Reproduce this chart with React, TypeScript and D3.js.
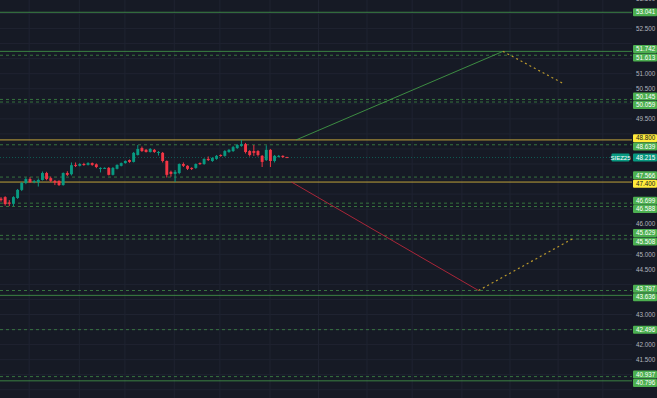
import React from "react";
import * as d3 from "d3";

const W = 657;
const H = 398;

// Candles (bar index 0..69)
const opens = [46.85, 46.90, 46.72, 46.68, 46.87, 47.14, 47.37, 47.50, 47.40, 47.40, 47.47, 47.70, 47.53, 47.44, 47.44, 47.30, 47.70, 47.66, 47.97, 47.94, 48.00, 47.97, 48.03, 47.99, 47.84, 47.87, 47.87, 47.64, 47.84, 47.94, 48.03, 48.13, 48.07, 48.30, 48.53, 48.47, 48.40, 48.47, 48.38, 48.37, 48.10, 47.74, 47.67, 47.70, 48.00, 47.94, 47.87, 47.87, 48.03, 48.00, 48.17, 48.10, 48.17, 48.30, 48.27, 48.40, 48.43, 48.53, 48.60, 48.66, 48.43, 48.43, 48.43, 48.27, 48.13, 48.47, 48.10, 48.24, 48.27, 48.23];
const highs = [46.90, 46.93, 46.80, 46.93, 47.17, 47.40, 47.55, 47.56, 47.47, 47.52, 47.75, 47.74, 47.58, 47.47, 47.46, 47.72, 47.76, 48.05, 48.05, 48.03, 48.04, 48.06, 48.05, 48.02, 47.89, 47.89, 47.90, 47.90, 47.99, 48.05, 48.12, 48.15, 48.40, 48.63, 48.58, 48.50, 48.53, 48.50, 48.43, 48.40, 48.12, 47.78, 47.80, 48.02, 48.05, 47.96, 47.89, 48.02, 48.05, 48.19, 48.25, 48.23, 48.30, 48.32, 48.46, 48.50, 48.60, 48.66, 48.80, 48.70, 48.46, 48.63, 48.46, 48.30, 48.62, 48.50, 48.30, 48.30, 48.29, 48.24];
const lows = [46.75, 46.62, 46.60, 46.60, 46.84, 47.10, 47.33, 47.37, 47.36, 47.25, 47.45, 47.46, 47.40, 47.30, 47.27, 47.28, 47.60, 47.62, 47.90, 47.92, 47.94, 47.95, 47.94, 47.86, 47.72, 47.85, 47.62, 47.62, 47.82, 47.92, 48.01, 48.04, 48.05, 48.28, 48.40, 48.38, 48.38, 48.37, 48.28, 48.05, 47.55, 47.58, 47.40, 47.66, 47.90, 47.80, 47.80, 47.84, 47.97, 47.97, 48.10, 48.07, 48.14, 48.24, 48.24, 48.37, 48.40, 48.50, 48.57, 48.35, 48.25, 48.27, 48.25, 47.90, 48.10, 47.90, 48.05, 48.22, 48.20, 48.20];
const closes = [46.80, 46.67, 46.68, 46.90, 47.14, 47.37, 47.50, 47.40, 47.43, 47.47, 47.70, 47.50, 47.44, 47.38, 47.30, 47.70, 47.64, 47.96, 47.94, 48.00, 47.97, 48.03, 47.97, 47.90, 47.87, 47.87, 47.64, 47.87, 47.97, 48.03, 48.10, 48.07, 48.37, 48.50, 48.43, 48.40, 48.50, 48.40, 48.40, 48.10, 47.64, 47.67, 47.74, 48.00, 47.94, 47.84, 47.84, 48.00, 48.00, 48.17, 48.13, 48.20, 48.27, 48.27, 48.43, 48.47, 48.56, 48.63, 48.66, 48.40, 48.30, 48.37, 48.30, 48.07, 48.47, 48.10, 48.27, 48.27, 48.23, 48.215];

// Horizontal levels
const solidGreenLevels = [53.041, 51.742, 43.636, 40.796];
const dashedGreenLevels = [51.613, 50.145, 50.059, 48.639, 47.566, 46.699, 46.588, 45.629, 45.508, 43.797, 42.496, 40.937];
const yellowLevels = [48.8, 47.4];
const lastPrice = 48.215;
const symbolName = "SIEZ25";

// Drawings (bar index, price)
const trendUp: [number, number][] = [[71.2, 48.8], [121.1, 51.742]];
const projectionUp: [number, number][] = [[121.1, 51.742], [136.0, 50.648]];
const trendDown: [number, number][] = [[70.1, 47.4], [115.2, 43.797]];
const projectionDown: [number, number][] = [[115.2, 43.797], [138.1, 45.53]];

// Axis ticks
const priceTicks = d3.range(40.5, 53.51, 0.5);
const timeGridIndex = [6.8, 18.9, 29.9, 41.8, 52.8, 64.9, 76.6, 88.3, 99.2, 111.2, 122.8, 134.4, 145.2];

const BG = "#161a25";
const GRID = "#1f2331";
const UP = "#089981";
const DOWN = "#f23645";
const GREEN = "#4caf50";
const YELLOW_LINE = "#bfa23a";
const YELLOW_BADGE = "#ffeb3b";
const PLOT_RIGHT = 632;
const FONT = "'Liberation Sans', Arial, sans-serif";

export default function App() {
  const x = d3.scaleLinear().domain([0, 69]).range([1, 287]);
  const y = d3.scaleLinear().domain([40.5, 53.5]).range([389.75, -1.55]);
  const line = d3
    .line<[number, number]>()
    .x((d) => x(d[0]))
    .y((d) => y(d[1]));

  type Badge = { v: number; fill: string; text: string; textFill: string };
  const badges: Badge[] = [
    ...solidGreenLevels.map((v) => ({ v, fill: GREEN, text: v.toFixed(3), textFill: "#ffffff" })),
    ...dashedGreenLevels.map((v) => ({ v, fill: GREEN, text: v.toFixed(3), textFill: "#ffffff" })),
    ...yellowLevels.map((v) => ({ v, fill: YELLOW_BADGE, text: v.toFixed(3), textFill: "#131722" })),
    { v: lastPrice, fill: UP, text: lastPrice.toFixed(3), textFill: "#ffffff" },
  ].sort((a, b) => b.v - a.v);

  const BH = 8;
  const GAP = 8.4;
  const desired = badges.map((b) => y(b.v));
  const placed: number[] = desired.slice();
  const groups: number[][] = [];
  let cur: number[] = [0];
  for (let i = 1; i < desired.length; i++) {
    if (desired[i] - desired[i - 1] < GAP) cur.push(i);
    else {
      groups.push(cur);
      cur = [i];
    }
  }
  groups.push(cur);
  groups.forEach((g) => {
    if (g.length > 1) {
      const mean = d3.mean(g, (i) => desired[i]) as number;
      g.forEach((i, k) => {
        placed[i] = mean + (k - (g.length - 1) / 2) * GAP;
      });
    }
  });

  // hide tick labels that are covered by a badge
  const visibleTicks = priceTicks.filter((t) => {
    const ty = y(t);
    return placed.every((p) => Math.abs(p - ty) >= 7.2);
  });

  const lastIdx = badges.findIndex((b) => b.v === lastPrice);
  const bw = 2.9;

  return (
    <svg
      width={W}
      height={H}
      style={{ position: "absolute", left: 0, top: 0, background: BG }}
      fontFamily={FONT}
    >
      <rect x={0} y={0} width={W} height={H} fill={BG} />
      {priceTicks.map((t) => (
        <line key={"h" + t} x1={0} x2={PLOT_RIGHT} y1={y(t)} y2={y(t)} stroke={GRID} strokeWidth={1} />
      ))}
      {timeGridIndex.map((t) => (
        <line key={"v" + t} x1={x(t)} x2={x(t)} y1={0} y2={H} stroke={GRID} strokeWidth={1} />
      ))}

      {dashedGreenLevels.map((v) => (
        <line key={"d" + v} x1={0} x2={PLOT_RIGHT} y1={y(v)} y2={y(v)} stroke={GREEN} strokeOpacity={0.6} strokeWidth={1} strokeDasharray="3,3" />
      ))}
      {solidGreenLevels.map((v) => (
        <line key={"s" + v} x1={0} x2={PLOT_RIGHT} y1={y(v)} y2={y(v)} stroke={GREEN} strokeOpacity={0.7} strokeWidth={1} />
      ))}
      {yellowLevels.map((v) => (
        <line key={"y" + v} x1={0} x2={PLOT_RIGHT} y1={y(v)} y2={y(v)} stroke={YELLOW_LINE} strokeWidth={1} />
      ))}
      <line x1={0} x2={PLOT_RIGHT} y1={y(lastPrice)} y2={y(lastPrice)} stroke={UP} strokeOpacity={0.5} strokeWidth={1} strokeDasharray="1,2" />

      <path d={line(trendUp) || ""} stroke="#43a047" strokeOpacity={0.85} strokeWidth={1} fill="none" />
      <path d={line(trendDown) || ""} stroke="#c2283c" strokeOpacity={0.85} strokeWidth={1} fill="none" />
      <path d={line(projectionUp) || ""} stroke="#b8972c" strokeWidth={1.2} strokeDasharray="2,3" fill="none" />
      <path d={line(projectionDown) || ""} stroke="#b8972c" strokeWidth={1.2} strokeDasharray="2,3" fill="none" />

      {opens.map((o, i) => {
        const c = closes[i];
        const col = c >= o ? UP : DOWN;
        const top = y(Math.max(o, c));
        const bot = y(Math.min(o, c));
        return (
          <g key={"c" + i}>
            <line x1={x(i)} x2={x(i)} y1={y(highs[i])} y2={y(lows[i])} stroke={col} strokeWidth={1} />
            <rect x={x(i) - bw / 2} y={top} width={bw} height={Math.max(1, bot - top)} fill={col} />
          </g>
        );
      })}

      {visibleTicks.map((t) => (
        <text key={"t" + t} x={636} y={y(t)} dy="0.35em" fontSize={6.3} fill="#b2b5be">
          {t.toFixed(3)}
        </text>
      ))}

      {badges.map((b, i) => (
        <g key={"b" + i}>
          <rect x={633} y={placed[i] - BH / 2} width={24} height={BH} fill={b.fill} rx={1} />
          <text x={636} y={placed[i]} dy="0.35em" fontSize={6.3} fill={b.textFill}>
            {b.text}
          </text>
        </g>
      ))}
      <rect x={611.5} y={placed[lastIdx] - BH / 2} width={18} height={BH} fill={UP} rx={1} />
      <text x={620.5} y={placed[lastIdx]} dy="0.35em" fontSize={6} fill="#ffffff" textAnchor="middle">
        {symbolName}
      </text>
    </svg>
  );
}
